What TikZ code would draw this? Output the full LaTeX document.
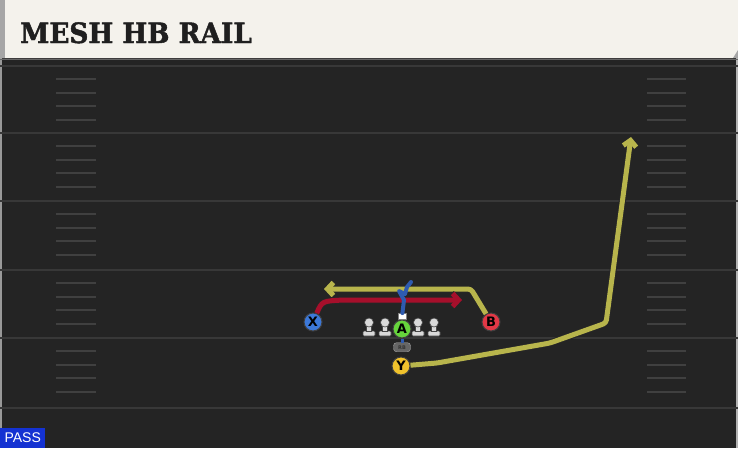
\documentclass[tikz,border=0pt]{standalone}
\usepackage{fontspec}
\setmainfont{DejaVu Sans}
\newfontfamily\titlefont[FakeStretch=0.94, FakeBold=1.6]{DejaVu Serif Bold}
\newfontfamily\passfont{Liberation Sans}
\usetikzlibrary{positioning,arrows.meta}

\definecolor{fieldgray}{HTML}{242424}
\definecolor{yardgray}{HTML}{383838}
\definecolor{headercream}{HTML}{F4F2EC}
\definecolor{routeyellow}{HTML}{B8B54C}
\definecolor{routered}{HTML}{A60F2B}
\definecolor{routeblue}{HTML}{2E5BB0}
\definecolor{playerblue}{HTML}{3C78D8}
\definecolor{playerred}{HTML}{E23846}
\definecolor{playergreen}{HTML}{66D43C}
\definecolor{playergold}{HTML}{F0C22C}
\definecolor{passblue}{HTML}{1432D2}

\begin{document}
\begin{tikzpicture}[
        x=1pt, y=-1pt,
        player/.style={
            circle,
            draw=black!75,
            line width=1pt,
            minimum size=18pt,
            inner sep=0pt,
            font=\bfseries\fontsize{13}{13}\selectfont
        },
        rbtag/.style={
            draw=gray!70,
            fill=gray!80!black,
            rounded corners=3pt,
            minimum width=17pt,
            minimum height=9pt,
            inner sep=0pt,
            font=\bfseries\fontsize{5}{5}\selectfont,
            text=black!80
        },
        snap/.style={draw=gray, fill=white, minimum width=8pt, minimum height=6pt, inner sep=0pt},
        route/.style={
            draw=#1,
            line width=5pt,
            line join=round,
            preaction={draw=black!85, line width=7pt}
        },
        tip/.style={-{Straight Barb[length=6pt,width=13pt]}},
        yardline/.style={yardgray, line width=2pt},
        hash/.style={black!75!white, line width=1.5pt},
        lineman/.style={fill=gray!30, draw=gray!55!black, line width=0.6pt}
    ]

    % Field and header
    \useasboundingbox (0,0) rectangle (738,448);
    \fill[fieldgray] (0,58) rectangle (738,448);
    \fill[black!40] (0,58) rectangle (2,448);
    \fill[black!30] (736,58) rectangle (738,448);
    \fill[headercream] (0,0) -- (738,0) -- (738,50) -- (733,58) -- (0,58) -- cycle;
    \fill[gray!70] (733,58) -- (738,50) -- (738,58) -- cycle;
    \fill[gray!70] (0,0) rectangle (5,58);
    \draw[black!60, line width=1pt] (0,59) -- (738,59);

    % Yard lines and hashes
    \foreach \yl in {66,133,201,270,338,408}
        \draw[yardline] (0,\yl) -- (738,\yl);
    \foreach \yl in {66,133,201,270,338}
        \foreach \dy in {13,27,40,54} {
            \draw[hash] (56,\yl+\dy) -- (96,\yl+\dy);
            \draw[hash] (647,\yl+\dy) -- (686,\yl+\dy);
        }

    % Title and play type
    \node[anchor=base west, inner sep=0pt, font=\titlefont\fontsize{28}{28}\selectfont, text=black!88] (title) at (20,43) {MESH HB RAIL};
    \node[anchor=south west, fill=passblue, text=white, minimum width=45pt, minimum height=20pt, inner sep=0pt, font=\passfont\fontsize{14}{14}\selectfont] (pass) at (0,448) {PASS};

    % Line
    \foreach \lx in {369,385,418,434} {
        \filldraw[lineman, rounded corners=1pt] (\lx-6,336) rectangle (\lx+6,331);
        \filldraw[lineman] (\lx-2.5,331) rectangle (\lx+2.5,325);
        \filldraw[lineman] (\lx,322.5) circle (4.5);
    }

    % Players
    \node[player, fill=playerblue] (X) at (313,322) {X};
    \node[player, fill=playerred] (B) at (491,322) {B};
    \node[player, fill=playergreen] (A) at (402,329) {A};
    \node[snap, above=0pt of A] (ball) {};
    \node[rbtag, below=4pt of A] (RB) {RB};
    \node[player, fill=playergold] (Y) at (401,366) {Y};

    % Route ends
    \coordinate (redend) at (462,300);
    \coordinate (yellowend) at (324,289);
    \coordinate (railend) at (631,137);
    \coordinate (blueend) at (411,282);

    % Routes
    \draw[route=routeyellow, tip, rounded corners=3pt] (B) -- (471,289) -- (yellowend);
    \draw[route=routered, tip] (X) .. controls (322,301) .. (344,300) -- (redend);
    \draw[route=routeyellow, tip, rounded corners=3pt] (Y) -- (437,363) -- (550,343) -- (606,323) -- (railend);
    \draw[routeblue, line width=4pt, line join=round, line cap=round] (ball) -- (404,300) -- (399,291) -- (405,294) -- (407,287) -- (blueend);
    \draw[routeblue, line width=3pt] (RB) -- (A);

\end{tikzpicture}
\end{document}
